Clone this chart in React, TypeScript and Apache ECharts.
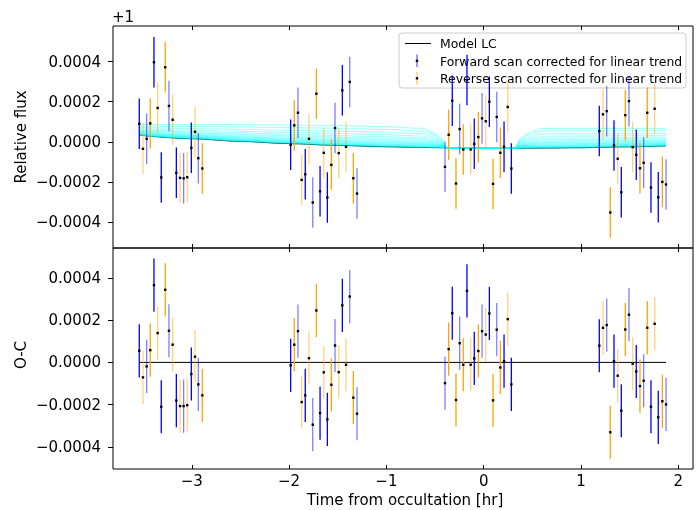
import React, { useEffect, useRef } from 'react';
import * as echarts from 'echarts';

// Time from occultation [hr], four visits
const TIME = [
  -3.540, -3.502, -3.464, -3.427, -3.389, -3.351, -3.314, -3.273, -3.235, -3.197, -3.159, -3.121, -3.084, -3.047, -3.005, -2.967, -2.933, -2.892,
  -1.984, -1.947, -1.909, -1.871, -1.834, -1.796, -1.757, -1.720, -1.682, -1.644, -1.607, -1.566, -1.528, -1.490, -1.453, -1.415, -1.377, -1.340, -1.302,
  -0.398, -0.360, -0.323, -0.285, -0.247, -0.210, -0.172, -0.134, -0.097, -0.055, -0.017, 0.021, 0.058, 0.096, 0.134, 0.171, 0.209, 0.247, 0.284,
  1.188, 1.226, 1.264, 1.301, 1.339, 1.377, 1.414, 1.455, 1.493, 1.531, 1.568, 1.606, 1.644, 1.681, 1.719, 1.757, 1.794, 1.836, 1.874,
];

// Relative flux minus 1 (top panel)
const FLUX = [
  9.0e-5, -3.5e-5, 1.5e-5, 9.2e-5, 3.97e-4, 1.69e-4, -1.78e-4, 3.72e-4, 1.79e-4, 1.10e-4, -1.55e-4, -1.80e-4, -1.82e-4, -1.77e-4, -3.0e-5, 5.0e-5, -8.2e-5, -1.33e-4,
  -1.5e-5, 8.2e-5, 1.45e-4, -1.90e-4, -1.62e-4, 1.5e-5, -3.03e-4, 2.40e-4, -2.47e-4, -5.5e-5, -2.78e-4, -1.15e-4, 6.85e-5, -5.65e-5, 2.57e-4, -2.5e-5, 2.99e-4, -1.82e-4, -2.58e-4,
  -1.25e-4, 3.5e-5, 2.05e-4, -2.08e-4, 6.35e-5, -3.8e-5, 3.08e-4, -3.8e-5, -1.0e-5, 2.35e-5, 1.17e-4, 1.03e-4, 2.0e-4, -2.1e-4, 1.24e-4, -5.5e-5, -2.5e-5, 1.74e-4, -1.33e-4,
  5.35e-5, 1.37e-4, 1.53e-4, -3.53e-4, -1.8e-5, -8.5e-5, -2.52e-4, 1.33e-4, 2.03e-4, -2.65e-5, -6.5e-5, -1.32e-4, -1.05e-4, 1.45e-4, -2.28e-4, 1.65e-4, -2.77e-4, -2.0e-4, -2.13e-4,
];

// Observed minus computed (bottom panel)
const RESID = [
  5.5e-5, -7.1e-5, -1.9e-5, 5.8e-5, 3.66e-4, 1.39e-4, -2.10e-4, 3.44e-4, 1.50e-4, 8.4e-5, -1.81e-4, -2.07e-4, -2.07e-4, -2.03e-4, -5.5e-5, 2.7e-5, -1.04e-4, -1.56e-4,
  -1.4e-5, 8.4e-5, 1.48e-4, -1.88e-4, -1.56e-4, 2.0e-5, -2.95e-4, 2.46e-4, -2.40e-4, -4.7e-5, -2.70e-4, -1.06e-4, 8.0e-5, -4.6e-5, 2.70e-4, -1.1e-5, 3.12e-4, -1.67e-4, -2.43e-4,
  -9.8e-5, 6.3e-5, 2.33e-4, -1.78e-4, 9.1e-5, -1.1e-5, 3.39e-4, -1.1e-5, 1.9e-5, 5.4e-5, 1.48e-4, 1.32e-4, 2.32e-4, -1.80e-4, 1.55e-4, -2.4e-5, 6e-6, 2.05e-4, -1.04e-4,
  7.9e-5, 1.64e-4, 1.77e-4, -3.31e-4, 6e-6, -6.3e-5, -2.29e-4, 1.56e-4, 2.26e-4, -6e-6, -4.3e-5, -1.12e-4, -8.7e-5, 1.64e-4, -2.10e-4, 1.83e-4, -2.60e-4, -1.84e-4, -1.99e-4,
];

// Scan direction: F = forward, R = reverse
const SCAN = [
  'F','R','F','R','F','R','F','R','F','R','F','R','F','R','F','R','F','R',
  'F','R','F','R','F','R','F','R','F','R','F','R','F','R','F','R','F','R','F',
  'F','R','F','R','F','R','F','R','F','R','F','R','F','R','F','R','F','R','F',
  'F','R','F','R','F','R','F','R','F','R','F','R','F','R','F','R','F','R','F',
];

// Error-bar opacity (weight)
const ALPHA = [
  1, .5, .5, 1, 1, .5, 1, 1, .5, .5, 1, .5, .5, .5, 1, .5, .5, 1,
  1, 1, .5, .5, 1, .5, .5, 1, 1, .5, 1, 1, .5, .5, 1, .5, .5, 1, .5,
  .5, 1, 1, 1, .5, 1, 1, .5, 1, 1, .5, .5, 1, 1, .5, 1, 1, .5, 1,
  1, .5, .5, 1, 1, .5, 1, 1, .5, .5, 1, 1, .5, 1, 1, .5, 1, 1, .5,
];

const ERR = 1.26e-4;

// Model light curve knots (best fit) and upper envelope of the model draws
const MODEL_T = [-3.54, -3.0, -2.5, -2.0, -1.5, -1.0, -0.63, -0.5, -0.44, -0.38, 0.0, 0.32, 0.38, 0.45, 0.6, 1.0, 1.5, 1.874];
const MODEL_Y = [3.3e-5, 1.57e-5, 2.3e-6, -8.8e-6, -1.78e-5, -2.46e-5, -2.81e-5, -2.91e-5, -2.94e-5, -2.98e-5, -3.13e-5, -3.16e-5, -3.16e-5, -3.14e-5, -3.11e-5, -2.92e-5, -2.48e-5, -2.0e-5];
const CYAN_TOP = [8.7e-5, 8.6e-5, 8.6e-5, 8.4e-5, 8.1e-5, 7.6e-5, 6.7e-5, 4.2e-5, 1.7e-5, -2.98e-5, -3.13e-5, -3.16e-5, 1.7e-5, 4.2e-5, 6.7e-5, 6.7e-5, 6.7e-5, 6.6e-5];
const CYAN_FRAC = [0.0, 0.02, 0.04, 0.06, 0.08, 0.1, 0.13, 0.16, 0.2, 0.24, 0.29, 0.35, 0.42, 0.5, 0.6, 0.72, 0.86, 1.0];

const Y_TICKS = [-0.0004, -0.0002, 0, 0.0002, 0.0004];
const X_TICKS = [-3, -2, -1, 0, 1, 2];

const X_MIN = -3.81;
const X_MAX = 2.151;
const TOP_MIN = -0.00053;
const TOP_MAX = 0.000578;
const BOT_MIN = -0.000505;
const BOT_MAX = 0.000542;

const FONT = 'DejaVu Sans';
const FS = 15;
const BLUE = '#0000ff';
const ORANGE = '#ffa500';

const fmtY = (v: number) => {
  if (Math.abs(v) < 1e-10) return '0.0000';
  return (v < 0 ? '\u2212' : '') + Math.abs(v).toFixed(4);
};
const fmtX = (v: number) => {
  const r = Math.round(v);
  return (r < 0 ? '\u2212' : '') + Math.abs(r).toString();
};

function errSeries(values: number[], scan: string, axisIndex: number) {
  const color = scan === 'F' ? BLUE : ORANGE;
  const data: number[][] = [];
  TIME.forEach((t, i) => {
    if (SCAN[i] === scan) data.push([t, values[i], ERR, ALPHA[i]]);
  });
  return {
    type: 'custom',
    xAxisIndex: axisIndex * 2,
    yAxisIndex: axisIndex,
    silent: true,
    clip: false,
    z: 5,
    encode: { x: 0, y: 1 },
    data,
    renderItem: (params: any, api: any) => {
      const x = api.value(0);
      const y = api.value(1);
      const e = api.value(2);
      const a = api.value(3);
      const p0 = api.coord([x, y - e]);
      const p1 = api.coord([x, y + e]);
      const c = api.coord([x, y]);
      return {
        type: 'group',
        children: [
          {
            type: 'line',
            shape: { x1: p0[0], y1: p0[1], x2: p1[0], y2: p1[1] },
            style: { stroke: color, lineWidth: 1.3, opacity: a },
          },
          {
            type: 'rect',
            shape: { x: c[0] - 1.2, y: c[1] - 1.2, width: 2.4, height: 2.4 },
            style: { fill: '#000' },
          },
        ],
      };
    },
  };
}

function xAxis(gridIndex: number, position: string, showLabels: boolean) {
  return {
    type: 'value',
    gridIndex,
    position,
    min: X_MIN,
    max: X_MAX,
    axisLine: { show: false, onZero: false },
    axisTick: { show: true, inside: true, length: 4, customValues: X_TICKS, lineStyle: { color: '#000', width: 1 } },
    axisLabel: {
      show: showLabels,
      customValues: X_TICKS,
      formatter: fmtX,
      color: '#000',
      fontFamily: FONT,
      fontSize: FS,
      margin: 4,
    },
    splitLine: { show: false },
  };
}

function yAxis(gridIndex: number, min: number, max: number) {
  return {
    type: 'value',
    gridIndex,
    min,
    max,
    axisLine: { show: false, onZero: false },
    axisTick: { show: true, inside: false, length: 5, customValues: Y_TICKS, lineStyle: { color: '#000', width: 1 } },
    axisLabel: {
      customValues: Y_TICKS,
      formatter: fmtY,
      color: '#000',
      fontFamily: FONT,
      fontSize: FS,
      margin: 12,
    },
    splitLine: { show: false },
  };
}

export default function App() {
  const ref = useRef<HTMLDivElement>(null);

  useEffect(() => {
    if (!ref.current) return;
    const chart = echarts.init(ref.current, undefined, { renderer: 'svg' });

    const cyanSeries = CYAN_FRAC.map((f) => ({
      type: 'line',
      xAxisIndex: 0,
      yAxisIndex: 0,
      silent: true,
      showSymbol: false,
      smooth: 0.3,
      smoothMonotone: 'x',
      z: 2,
      lineStyle: { color: '#00ffff', width: 1.2, opacity: 0.35 },
      data: MODEL_T.map((t, i) => [t, MODEL_Y[i] + f * (CYAN_TOP[i] - MODEL_Y[i])]),
    }));

    const option: any = {
      animation: false,
      textStyle: { fontFamily: FONT },
      grid: [
        { left: 113, right: 7, top: 26, height: 222, show: true, borderColor: '#000', borderWidth: 1, backgroundColor: 'transparent' },
        { left: 113, right: 7, top: 248, height: 221, show: true, borderColor: '#000', borderWidth: 1, backgroundColor: 'transparent' },
      ],
      xAxis: [
        xAxis(0, 'bottom', false),
        xAxis(0, 'top', false),
        xAxis(1, 'bottom', true),
        xAxis(1, 'top', false),
      ],
      yAxis: [yAxis(0, TOP_MIN, TOP_MAX), yAxis(1, BOT_MIN, BOT_MAX)],
      series: [
        {
          type: 'line',
          xAxisIndex: 0,
          yAxisIndex: 0,
          silent: true,
          showSymbol: false,
          smooth: 0.3,
          smoothMonotone: 'x',
          z: 2,
          lineStyle: { color: '#000', width: 1 },
          data: MODEL_T.map((t, i) => [t, MODEL_Y[i]]),
        },
        ...cyanSeries,
        errSeries(FLUX, 'F', 0),
        errSeries(FLUX, 'R', 0),
        {
          type: 'line',
          xAxisIndex: 2,
          yAxisIndex: 1,
          silent: true,
          showSymbol: false,
          z: 3,
          lineStyle: { color: '#000', width: 1 },
          data: [[TIME[0], 0], [TIME[TIME.length - 1], 0]],
        },
        errSeries(RESID, 'F', 1),
        errSeries(RESID, 'R', 1),
      ],
      graphic: [
        { type: 'text', x: 112, y: 17, style: { text: '+1', fontFamily: FONT, fontSize: FS, fill: '#000', textAlign: 'left', textVerticalAlign: 'middle' } },
        { type: 'text', x: 21, y: 137, rotation: Math.PI / 2, style: { text: 'Relative flux', fontFamily: FONT, fontSize: FS, fill: '#000', textAlign: 'center', textVerticalAlign: 'middle' } },
        { type: 'text', x: 21, y: 355, rotation: Math.PI / 2, style: { text: 'O-C', fontFamily: FONT, fontSize: FS, fill: '#000', textAlign: 'center', textVerticalAlign: 'middle' } },
        { type: 'text', x: 405, y: 500, style: { text: 'Time from occultation [hr]', fontFamily: FONT, fontSize: FS, fill: '#000', textAlign: 'center', textVerticalAlign: 'middle' } },
        {
          type: 'group',
          z: 100,
          children: [
            { type: 'rect', shape: { x: 399, y: 33, width: 287, height: 55, r: 3 }, style: { fill: 'rgba(255,255,255,0.8)', stroke: '#cccccc', lineWidth: 1 } },
            { type: 'line', shape: { x1: 405, y1: 43.5, x2: 431, y2: 43.5 }, style: { stroke: '#000', lineWidth: 1 } },
            { type: 'line', shape: { x1: 417, y1: 54.5, x2: 417, y2: 67 }, style: { stroke: BLUE, lineWidth: 1.3, opacity: 0.6 } },
            { type: 'rect', shape: { x: 415.8, y: 59.6, width: 2.4, height: 2.4 }, style: { fill: '#000' } },
            { type: 'line', shape: { x1: 417, y1: 72, x2: 417, y2: 84.5 }, style: { stroke: ORANGE, lineWidth: 1.3, opacity: 0.6 } },
            { type: 'rect', shape: { x: 415.8, y: 77.1, width: 2.4, height: 2.4 }, style: { fill: '#000' } },
            { type: 'text', x: 440, y: 43.5, style: { text: 'Model LC', fontFamily: FONT, fontSize: 12.4, fill: '#000', textVerticalAlign: 'middle' } },
            { type: 'text', x: 440, y: 61, style: { text: 'Forward scan corrected for linear trend', fontFamily: FONT, fontSize: 12.4, fill: '#000', textVerticalAlign: 'middle' } },
            { type: 'text', x: 440, y: 78.5, style: { text: 'Reverse scan corrected for linear trend', fontFamily: FONT, fontSize: 12.4, fill: '#000', textVerticalAlign: 'middle' } },
          ],
        },
      ],
    };

    chart.setOption(option);
    return () => chart.dispose();
  }, []);

  return <div ref={ref} style={{ position: 'fixed', left: 0, top: 0, width: 700, height: 510 }} />;
}
